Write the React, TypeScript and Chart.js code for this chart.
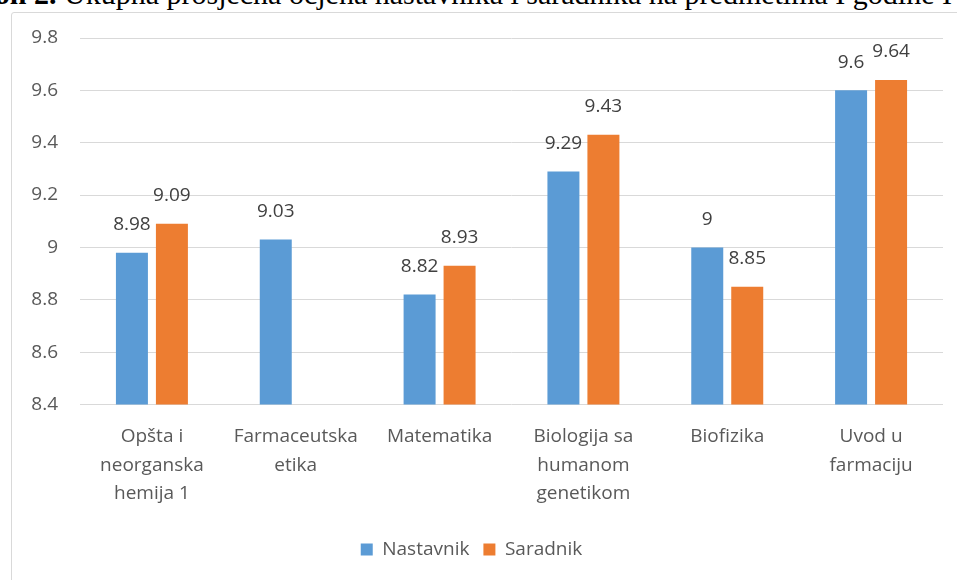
import React, { useEffect, useRef } from "react";
import { Chart, registerables } from "chart.js";

Chart.register(...registerables);

const categories: string[][] = [
  ["Opšta i", "neorganska", "hemija 1"],
  ["Farmaceutska", "etika"],
  ["Matematika"],
  ["Biologija sa", "humanom", "genetikom"],
  ["Biofizika"],
  ["Uvod u", "farmaciju"],
];
const seriesNames = ["Nastavnik", "Saradnik"];
const nastavnik: (number | null)[] = [8.98, 9.03, 8.82, 9.29, 9.0, 9.6];
const saradnik: (number | null)[] = [9.09, null, 8.93, 9.43, 8.85, 9.64];
const yMin = 8.4;
const yMax = 9.8;
const yStep = 0.2;
const titleLead = "Grafikon 2.";
const titleText =
  " Ukupna prosječna ocjena nastavnika i saradnika na predmetima I godine I";

const FONT = "'Open Sans', 'Liberation Sans', sans-serif";
const TEXT = "#595959";

const labelPlugin = {
  id: "valueLabels",
  afterDatasetsDraw(chart: any) {
    const ctx = chart.ctx;
    ctx.save();
    ctx.font = `19px ${FONT}`;
    ctx.fillStyle = "#404040";
    ctx.textAlign = "center";
    ctx.textBaseline = "middle";
    chart.data.datasets.forEach((ds: any, di: number) => {
      const meta = chart.getDatasetMeta(di);
      meta.data.forEach((bar: any, i: number) => {
        const v = ds.data[i];
        if (v === null || v === undefined) return;
        ctx.fillText(String(v), bar.x, bar.y - 28);
      });
    });
    ctx.restore();
  },
};

export default function App() {
  const ref = useRef<HTMLCanvasElement | null>(null);
  useEffect(() => {
    if (!ref.current) return;
    const chart = new Chart(ref.current, {
      type: "bar",
      data: {
        labels: categories,
        datasets: [
          {
            label: seriesNames[0],
            data: nastavnik,
            backgroundColor: "#5B9BD5",
            barPercentage: 0.8,
            categoryPercentage: 0.556,
          },
          {
            label: seriesNames[1],
            data: saradnik,
            backgroundColor: "#ED7D31",
            barPercentage: 0.8,
            categoryPercentage: 0.556,
          },
        ],
      },
      options: {
        animation: false,
        responsive: false,
        maintainAspectRatio: false,
        layout: { padding: { top: 38, right: 14, bottom: 11, left: 0 } },
        plugins: {
          legend: {
            position: "bottom",
            labels: {
              boxWidth: 12,
              boxHeight: 12,
              padding: 14,
              color: TEXT,
              font: { family: FONT, size: 19 },
            },
          },
          tooltip: { enabled: false },
        },
        scales: {
          x: {
            grid: { display: false, drawTicks: false },
            border: { display: false },
            ticks: {
              color: TEXT,
              font: { family: FONT, size: 19, lineHeight: 1.5 },
              padding: 18,
              maxRotation: 0,
              autoSkip: false,
            },
          },
          y: {
            min: yMin,
            max: yMax,
            afterFit: (s: any) => {
              s.width = 80;
            },
            grid: { color: "#d9d9d9", drawTicks: false, lineWidth: 1 },
            border: { display: false },
            ticks: {
              stepSize: yStep,
              color: TEXT,
              padding: 22,
              font: { family: FONT, size: 19 },
              callback: (v: any) => String(Math.round(Number(v) * 10) / 10),
            },
          },
        },
      },
      plugins: [labelPlugin],
    });
    return () => chart.destroy();
  }, []);

  return (
    <div
      style={{
        position: "fixed",
        left: 0,
        top: 0,
        width: 957,
        height: 580,
        background: "#fff",
        overflow: "hidden",
      }}
    >
      <div
        style={{
          position: "absolute",
          right: 5,
          top: -21,
          whiteSpace: "nowrap",
          fontFamily: "'Liberation Serif', serif",
          fontSize: 30,
          lineHeight: 1,
          color: "#000",
        }}
      >
        <b>{titleLead}</b>
        {titleText}
      </div>
      <div
        style={{
          position: "absolute",
          left: 11,
          top: 12,
          width: 960,
          height: 600,
          border: "1px solid #d9d9d9",
          borderRadius: 3,
        }}
      />
      <canvas
        ref={ref}
        width={957}
        height={580}
        style={{ position: "absolute", left: 0, top: 0 }}
      />
    </div>
  );
}
